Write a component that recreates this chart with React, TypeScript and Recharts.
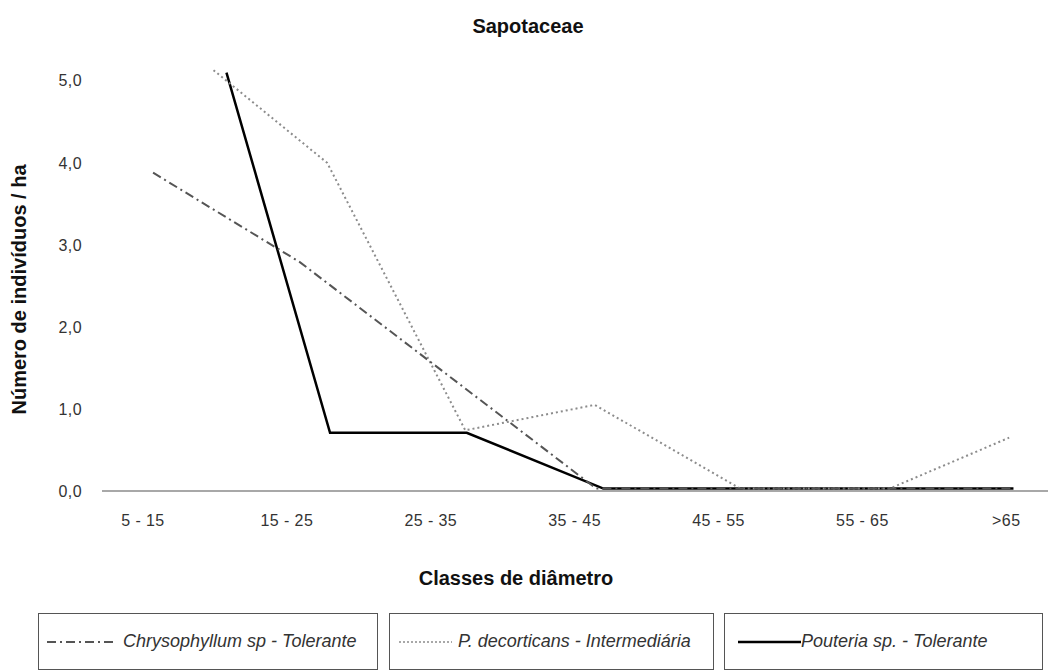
import { LineChart, Line, XAxis, YAxis } from 'recharts';

const categories = ['5 - 15', '15 - 25', '25 - 35', '35 - 45', '45 - 55', '55 - 65', '>65'];
const yTicks = [0, 1, 2, 3, 4, 5];

// x positions in category units (0 = "5 - 15")
const chrysoX = [0.07, 1.09, 3.15, 6.05];
const chrysoY = [3.88, 2.79, 0.03, 0.03];
const decoX = [0.49, 1.28, 2.24, 3.14, 4.15, 5.19, 6.02];
const decoY = [5.13, 4.0, 0.74, 1.05, 0.03, 0.03, 0.65];
const poutX = [0.58, 1.3, 2.25, 3.2, 6.05];
const poutY = [5.1, 0.71, 0.71, 0.03, 0.03];

const toRows = (xs: number[], ys: number[]) => xs.map((x, i) => ({ x, v: ys[i] }));

const FONT = "'Liberation Sans', Arial, sans-serif";

function YTitle({ viewBox }: { viewBox?: { x: number; y: number; width: number; height: number } }) {
  if (!viewBox) return null;
  const cx = 19;
  const cy = viewBox.y + viewBox.height / 2 + 20;
  return (
    <text
      x={cx}
      y={cy}
      transform={`rotate(-90, ${cx}, ${cy})`}
      textAnchor="middle"
      dominantBaseline="central"
      fontFamily={FONT}
      fontSize={20}
      fontWeight="bold"
      fill="#111"
    >
      Número de indivíduos / ha
    </text>
  );
}

function LegendBox({ left, width, pad, dash, color, sw, lineW, gap, label }: {
  left: number; width: number; pad: number; dash?: string; color: string; sw: number; lineW: number; gap: number; label: string;
}) {
  return (
    <div
      style={{
        position: 'absolute', left, top: 613, width, height: 57,
        border: '1px solid #555', boxSizing: 'border-box',
        display: 'flex', alignItems: 'center', paddingLeft: pad,
      }}
    >
      <svg width={lineW} height={6} style={{ flex: 'none' }}>
        <line x1={0} y1={3} x2={lineW} y2={3} stroke={color} strokeWidth={sw} strokeDasharray={dash} />
      </svg>
      <span
        style={{
          fontFamily: FONT, fontSize: 18, fontStyle: 'italic', color: '#333',
          marginLeft: gap, whiteSpace: 'nowrap',
        }}
      >
        {label}
      </span>
    </div>
  );
}

export default function App() {
  return (
    <div style={{ position: 'absolute', left: 0, top: 0, width: 1051, height: 672, background: '#fff' }}>
      <div
        style={{
          position: 'absolute', left: 0, top: 15, width: 1056, textAlign: 'center',
          fontFamily: FONT, fontSize: 20, fontWeight: 'bold', color: '#111',
        }}
      >
        Sapotaceae
      </div>
      <LineChart width={1051} height={672} margin={{ top: 48, right: 3, left: 0, bottom: 81 }}>
        <XAxis
          dataKey="x"
          type="number"
          domain={[-0.285, 6.29]}
          ticks={[0, 1, 2, 3, 4, 5, 6]}
          tickFormatter={(i: number) => categories[i]}
          allowDataOverflow
          height={100}
          tickSize={0}
          tickMargin={24}
          axisLine={{ stroke: '#a8a8a8', strokeWidth: 2 }}
          tickLine={false}
          tick={{ fill: '#333', fontSize: 16, fontFamily: FONT, letterSpacing: 0.4 }}
          label={{
            value: 'Classes de diâmetro',
            position: 'insideBottom',
            offset: 6,
            dx: -59,
            fill: '#111',
            fontSize: 20,
            fontWeight: 'bold',
            fontFamily: FONT,
          }}
        />
        <YAxis
          type="number"
          domain={[0, 5.4]}
          ticks={yTicks}
          tickFormatter={(v: number) => v.toFixed(1).replace('.', ',')}
          width={102}
          axisLine={false}
          tickLine={false}
          tickSize={0}
          tickMargin={20}
          tick={{ fill: '#333', fontSize: 16, fontFamily: FONT, letterSpacing: 0.4 }}
          label={<YTitle />}
        />
        <Line
          data={toRows(poutX, poutY)}
          dataKey="v"
          type="linear"
          stroke="#000"
          strokeWidth={2.5}
          dot={false}
          activeDot={false}
          isAnimationActive={false}
        />
        <Line
          data={toRows(decoX, decoY)}
          dataKey="v"
          type="linear"
          stroke="#8c8c8c"
          strokeWidth={2}
          strokeDasharray="2 3"
          dot={false}
          activeDot={false}
          isAnimationActive={false}
        />
        <Line
          data={toRows(chrysoX, chrysoY)}
          dataKey="v"
          type="linear"
          stroke="#555"
          strokeWidth={2}
          strokeDasharray="9 4 2 4"
          dot={false}
          activeDot={false}
          isAnimationActive={false}
        />
      </LineChart>
      <LegendBox left={38} width={340} pad={8} dash="9 4 2 4" color="#555" sw={2} lineW={66} gap={10} label="Chrysophyllum sp - Tolerante" />
      <LegendBox left={389} width={325} pad={9} dash="2 2" color="#8c8c8c" sw={1.5} lineW={53} gap={6} label="P. decorticans - Intermediária" />
      <LegendBox left={724} width={319} pad={13} color="#000" sw={2.5} lineW={63} gap={0} label="Pouteria sp. - Tolerante" />
    </div>
  );
}
